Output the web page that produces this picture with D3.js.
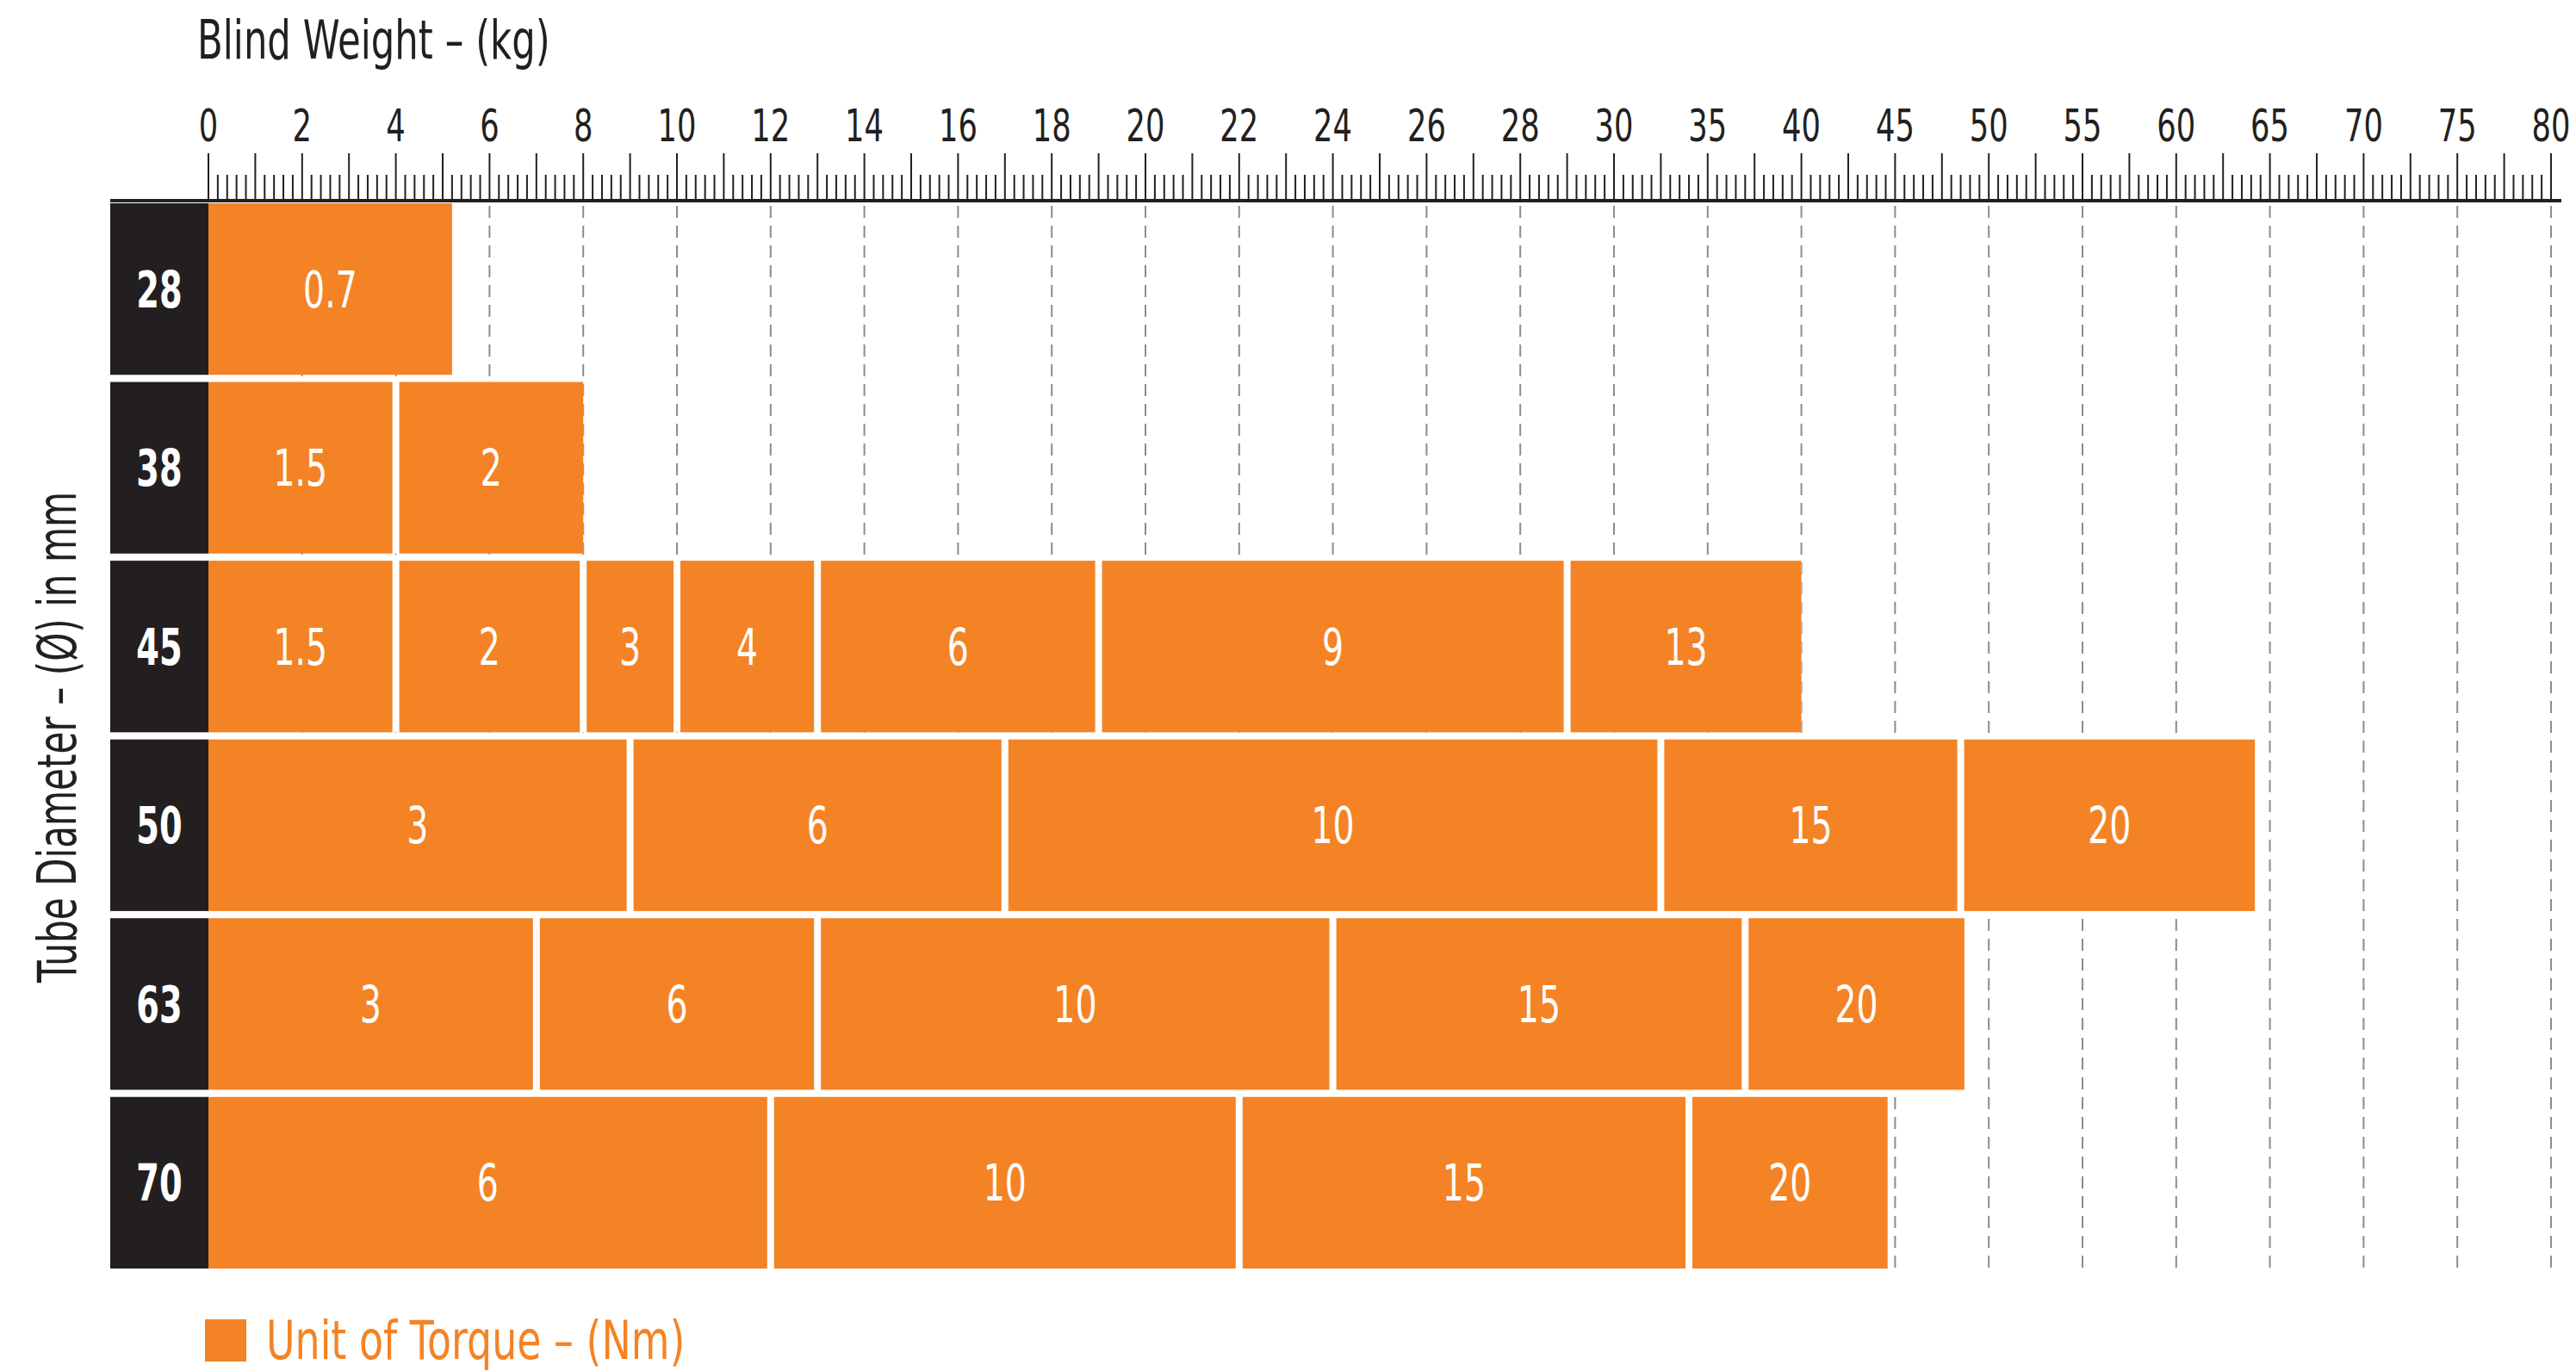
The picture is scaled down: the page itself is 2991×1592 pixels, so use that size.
<!DOCTYPE html>
<html>
<head>
<meta charset="utf-8">
<script src="https://cdn.jsdelivr.net/npm/d3@7"></script>
<style>
  body { margin: 0; background: #fff; }
  text { font-family: "DejaVu Sans", sans-serif; }
</style>
</head>
<body>
<div id="chart"></div>
<script>
// Tube diameters (rows)
const diameters = ["28", "38", "45", "50", "63", "70"];

// Blind weight breakpoints (kg) for each row
const breakpoints = [
  [0, 5.2],
  [0, 4, 8],
  [0, 4, 8, 10, 13, 19, 29, 40],
  [0, 9, 17, 32.5, 48.5, 64.2],
  [0, 7, 13, 24, 37, 48.7],
  [0, 12, 22, 34, 44.6]
];

// Torque (Nm) of each segment
const torques = [
  [0.7],
  [1.5, 2],
  [1.5, 2, 3, 4, 6, 9, 13],
  [3, 6, 10, 15, 20],
  [3, 6, 10, 15, 20],
  [6, 10, 15, 20]
];

// Axis tick labels (kg)
const tickLabels = [0, 2, 4, 6, 8, 10, 12, 14, 16, 18, 20, 22, 24, 26, 28, 30, 35, 40, 45, 50, 55, 60, 65, 70, 75, 80];

const ORANGE = "#f48325";
const DARK = "#231f20";
const width = 2991, height = 1592;
const x0 = 242, x1 = 2962;
const axisY = 233;
const gap = 8;

const svg = d3.select("#chart").append("svg")
  .attr("width", width)
  .attr("height", height);

// Piecewise scale: 2 kg steps up to 30, 5 kg steps after
const step = (x1 - x0) / (tickLabels.length - 1);
const x = d3.scaleLinear()
  .domain([0, 30, 80])
  .range([x0, x0 + 15 * step, x1]);

const y = d3.scaleBand()
  .domain(diameters)
  .range([236, 1473])
  .paddingInner(0.04);

// Dashed grid lines
svg.append("g")
  .selectAll("line")
  .data(tickLabels.slice(1))
  .join("line")
  .attr("x1", d => x(d)).attr("x2", d => x(d))
  .attr("y1", axisY + 6).attr("y2", 1473)
  .attr("stroke", "#8c8c8c")
  .attr("stroke-width", 2)
  .attr("stroke-dasharray", "14,9");

// Minor / major ticks (10 steps per labelled interval)
const ticks = [];
for (let i = 0; i < tickLabels.length - 1; i++) {
  const a = tickLabels[i], b = tickLabels[i + 1];
  for (let k = 0; k < 10; k++) ticks.push({v: a + (b - a) * k / 10, major: k % 5 === 0});
}
ticks.push({v: 80, major: true});

svg.append("g")
  .selectAll("line")
  .data(ticks)
  .join("line")
  .attr("x1", d => x(d.v)).attr("x2", d => x(d.v))
  .attr("y1", axisY)
  .attr("y2", d => d.major ? 178 : 203)
  .attr("stroke", DARK)
  .attr("stroke-width", 2);

svg.append("line")
  .attr("x1", 128).attr("x2", x1 + 12)
  .attr("y1", axisY).attr("y2", axisY)
  .attr("stroke", DARK)
  .attr("stroke-width", 4);

// Tick labels (squeezed for a condensed look)
svg.append("g")
  .selectAll("text")
  .data(tickLabels)
  .join("text")
  .attr("transform", d => `translate(${x(d)},164) scale(0.68,1)`)
  .attr("text-anchor", "middle")
  .attr("font-size", 52)
  .attr("fill", DARK)
  .text(d => d);

// Title
svg.append("text")
  .attr("transform", "translate(229,68) scale(0.7,1)")
  .attr("font-size", 62)
  .attr("fill", DARK)
  .text("Blind Weight – (kg)");

// Y title
svg.append("text")
  .attr("transform", "translate(88,856) rotate(-90) scale(0.68,1)")
  .attr("text-anchor", "middle")
  .attr("font-size", 62)
  .attr("fill", DARK)
  .text("Tube Diameter – (Ø) in mm");

// Rows
const rows = svg.append("g")
  .selectAll("g")
  .data(diameters)
  .join("g")
  .attr("transform", d => `translate(0,${y(d)})`);

rows.append("rect")
  .attr("x", 128).attr("width", x0 - 128)
  .attr("height", y.bandwidth())
  .attr("fill", DARK);

// White backing so grid lines do not show through the gaps
rows.append("rect")
  .attr("x", x0)
  .attr("width", (d, i) => x(breakpoints[i][breakpoints[i].length - 1]) - x0)
  .attr("height", y.bandwidth())
  .attr("fill", "#fff");

rows.append("text")
  .attr("transform", `translate(${(128 + x0) / 2},${y.bandwidth() / 2}) scale(0.66,1)`)
  .attr("dy", "0.36em")
  .attr("text-anchor", "middle")
  .attr("font-size", 58)
  .attr("font-weight", "bold")
  .attr("fill", "#fff")
  .text(d => d);

// Segments
const segs = rows.selectAll("g.seg")
  .data((d, i) => torques[i].map((t, j) => {
    const b = breakpoints[i];
    return {
      t: t,
      a: x(b[j]) + (j > 0 ? gap / 2 : 0),
      b: x(b[j + 1]) - (j < torques[i].length - 1 ? gap / 2 : 0)
    };
  }))
  .join("g")
  .attr("class", "seg");

segs.append("rect")
  .attr("x", d => d.a)
  .attr("width", d => d.b - d.a)
  .attr("height", y.bandwidth())
  .attr("fill", ORANGE);

segs.append("text")
  .attr("transform", d => `translate(${(d.a + d.b) / 2},${y.bandwidth() / 2}) scale(0.68,1)`)
  .attr("dy", "0.36em")
  .attr("text-anchor", "middle")
  .attr("font-size", 58)
  .attr("fill", "#fff")
  .text(d => d.t);

// Legend
svg.append("rect")
  .attr("x", 238).attr("y", 1532)
  .attr("width", 48).attr("height", 49)
  .attr("fill", ORANGE);

svg.append("text")
  .attr("transform", "translate(309,1578) scale(0.74,1)")
  .attr("font-size", 62)
  .attr("fill", ORANGE)
  .text("Unit of Torque – (Nm)");
</script>
</body>
</html>
